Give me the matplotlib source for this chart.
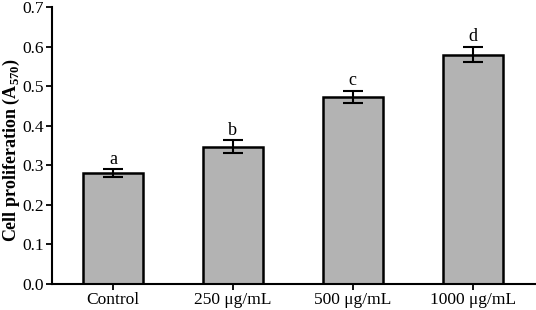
import numpy as np
import matplotlib
matplotlib.use("Agg")
import matplotlib.pyplot as plt

plt.rcParams['font.family'] = ['Liberation Serif', 'DejaVu Serif']
plt.rcParams['mathtext.fontset'] = 'custom'
plt.rcParams['mathtext.rm'] = 'Liberation Serif'
plt.rcParams['mathtext.bf'] = 'Liberation Serif:bold'

groups = ["Control", "250 \u03bcg/mL", "500 \u03bcg/mL", "1000 \u03bcg/mL"]
means = [0.280, 0.347, 0.473, 0.580]
errors = [0.010, 0.016, 0.016, 0.020]
letters = ["a", "b", "c", "d"]

fig = plt.figure(figsize=(5.36, 3.10), dpi=100)
ax = fig.add_axes([0.097, 0.084, 0.901, 0.893])

x = np.arange(len(groups))
ax.bar(x, means, width=0.5, color="#b3b3b3", edgecolor="black", linewidth=1.8,
       yerr=errors, error_kw=dict(ecolor="black", elinewidth=1.5, capsize=7, capthick=1.5))

for xi, m, e, lab in zip(x, means, errors, letters):
    ax.text(xi, m + e + 0.003, lab, ha="center", va="bottom", fontsize=13)

ax.set_xlim(-0.51, 3.52)
ax.set_ylim(0, 0.7)
ax.set_yticks(np.arange(0, 0.71, 0.1))
ax.set_yticklabels([f"{v:.1f}" for v in np.arange(0, 0.71, 0.1)])
ax.set_xticks(x)
ax.set_xticklabels(groups)
ax.tick_params(labelsize=12.5, width=1.3, length=4, direction="out", pad=2)
ax.set_ylabel(r"Cell proliferation (A$_{\mathregular{570}}$)", fontsize=13,
              fontweight="bold", va="center")
ax.yaxis.set_label_coords(-0.083, 0.484)

for side in ["top", "right"]:
    ax.spines[side].set_visible(False)
for side in ["left", "bottom"]:
    ax.spines[side].set_linewidth(1.5)

fig.savefig("out.png", dpi=100)
